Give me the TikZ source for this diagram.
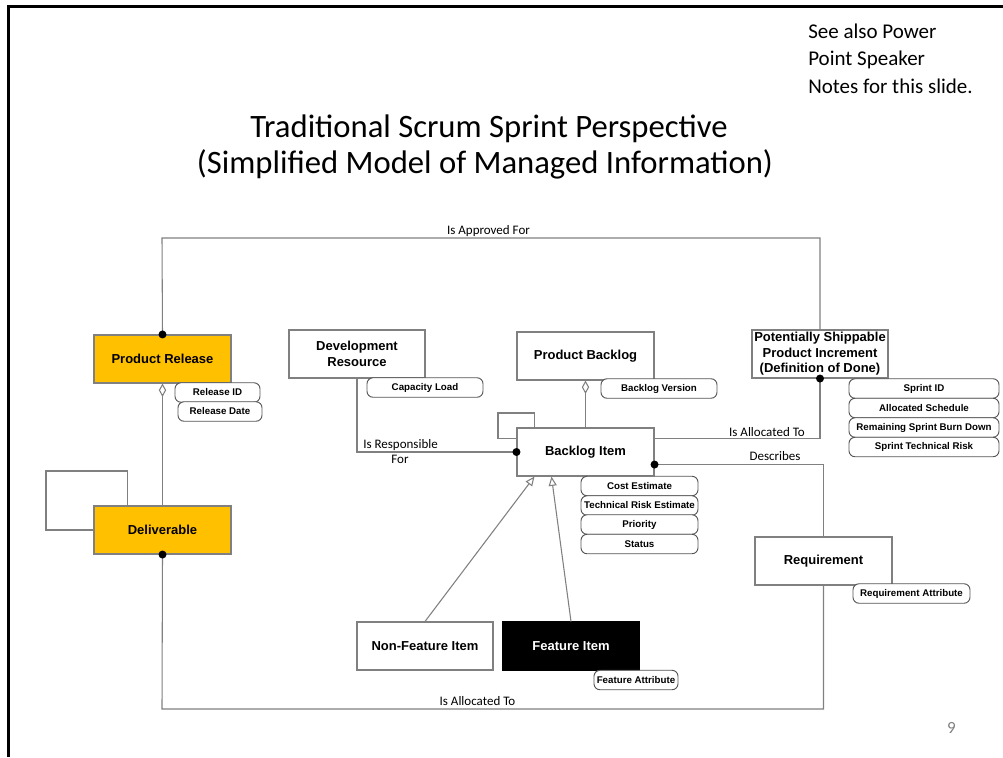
\documentclass[tikz,border=0pt]{standalone}
\usepackage{fontspec}
\setmainfont{Carlito}
\newfontfamily\arialfont{Liberation Sans}
\usetikzlibrary{arrows.meta,calc}
\definecolor{linegray}{HTML}{808080}
\definecolor{attrgray}{HTML}{555555}
\definecolor{relorange}{HTML}{FFC000}
\begin{document}
\begin{tikzpicture}[x=0.75pt,y=-0.75pt,
  ent/.style={draw=linegray, line width=0.8pt, minimum width=102.75pt, minimum height=36pt,
    inner sep=0pt, align=center, font=\arialfont\bfseries\fontsize{9.75}{11.6}\selectfont},
  attr/.style={draw=attrgray, line width=0.7pt, fill=white, rounded corners=4.5pt, minimum height=14.6pt,
    inner sep=0pt, font=\arialfont\bfseries\fontsize{7.3}{8}\selectfont},
  conn/.style={draw=linegray, line width=0.8pt},
  lbl/.style={inner sep=0pt, anchor=base, font=\fontsize{9.75}{11}\selectfont},
  dot/.style={fill=black},
  agg/.style={{Diamond[open,length=10pt,width=5.5pt]}-},
  gen/.style={-{Triangle[open,length=7pt,width=6pt]}}
]
\useasboundingbox (0,0) rectangle (1003,757);
\fill[white] (0,0) rectangle (1003,757);
\draw[line width=2.25pt] (8.5,757) -- (8.5,6.5) -- (1003,6.5);

% notes and heading
\node[inner sep=0pt, anchor=base west, font=\fontsize{15.75}{20}\selectfont] (note1) at (808,38.5) {See also Power};
\node[inner sep=0pt, anchor=base west, font=\fontsize{15.75}{20}\selectfont] (note2) at (808,65.5) {Point Speaker};
\node[inner sep=0pt, anchor=base west, font=\fontsize{15.75}{20}\selectfont] (note3) at (808,93) {Notes for this slide.};
\node[inner sep=0pt, anchor=base, font=\fontsize{24.5}{29}\selectfont] (title1) at (489,137) {Traditional Scrum Sprint Perspective};
\node[inner sep=0pt, anchor=base, font=\fontsize{24.5}{29}\selectfont] (title2) at (485,173) {(Simplified Model of Managed Information)};

% entities
\node[ent, fill=relorange] (pr) at (162.5,359) {Product Release};
\node[ent, fill=relorange] (del) at (162.5,530) {Deliverable};
\node[ent, minimum width=102pt] (dev) at (357,354) {Development\\Resource};
\node[ent] (pb) at (585.5,356) {Product Backlog};
\node[ent, minimum width=102pt] (pspi) at (820,354) {Potentially Shippable\\Product Increment\\(Definition of Done)};
\node[ent] (bi) at (585.5,452) {Backlog Item};
\node[ent] (req) at (823.5,561) {Requirement};
\node[ent, minimum width=102pt] (nfi) at (425,646) {Non-Feature Item};
\node[ent, minimum width=102pt, fill=black, draw=black, text=white] (fi) at (571,646) {Feature Item};

% corner points of the routed connectors
\coordinate (appr) at (162,238);
\coordinate (dloop) at (46,471);
\coordinate (bloop) at (498,413);
\coordinate (bottom) at (162,709);
\coordinate (descL) at ($(bi.south east)+(0,-12)$);
\coordinate (allocL) at ($(bi.north east)+(0,11)$);

% connectors
\draw[conn] (pr.north) -- (appr) -| (pspi.north);
\draw[conn, agg] (pr.south) -- (del.north);
\draw[conn] ($(del.north west)+(34,0)$) |- (dloop) |- (del.west);
\draw[conn] (del.south) -- (bottom) -| (req.south);
\draw[conn] (req.north) |- (descL);
\draw[conn] (pspi.south) |- (allocL);
\draw[conn] (dev.south) |- (bi.west);
\draw[conn, agg] (pb.south) -- (bi.north);
\draw[conn] ($(bi.north west)+(18,0)$) |- (bloop) |- ($(bi.north west)+(0,11)$);
\draw[conn, gen] (nfi.north) -- ($(bi.south west)+(18,0)$);
\draw[conn, gen] (fi.north) -- ($(bi.south west)+(35,0)$);

% connector ends
\fill[dot] (pr.north) circle[radius=4];
\fill[dot] (del.south) circle[radius=4];
\fill[dot] (pspi.south) circle[radius=4];
\fill[dot] (bi.west) circle[radius=4];
\fill[dot] (descL) circle[radius=4];

% connector labels
\node[lbl] (lapp) at (488.5,234) {Is Approved For};
\node[lbl, anchor=base west] (lresp) at (363,448) {Is Responsible};
\node[lbl] (lfor) at (400,463) {For};
\node[lbl] (lalloc1) at (767,436) {Is Allocated To};
\node[lbl] (ldesc) at (775,460) {Describes};
\node[lbl] (lalloc2) at (477.5,705) {Is Allocated To};

% attributes
\node[attr, minimum width=63.75pt] (relid) at (217.5,392.5) {Release ID};
\node[attr, minimum width=63pt] (reldate) at (220,411.5) {Release Date};
\node[attr, minimum width=87pt] (cap) at (425,387.5) {Capacity Load};
\node[attr, minimum width=87pt] (bver) at (659,388.5) {Backlog Version};
\node[attr, minimum width=112.5pt] (sid) at (924,388.5) {Sprint ID};
\node[attr, minimum width=112.5pt] (sched) at (924,408) {Allocated Schedule};
\node[attr, minimum width=112.5pt] (burn) at (924,427.5) {Remaining Sprint Burn Down};
\node[attr, minimum width=112.5pt] (srisk) at (924,447) {Sprint Technical Risk};
\node[attr, minimum width=87.75pt] (cost) at (639.5,486) {Cost Estimate};
\node[attr, minimum width=87.75pt] (trisk) at (639.5,505.5) {Technical Risk Estimate};
\node[attr, minimum width=87.75pt] (prio) at (639.5,524.5) {Priority};
\node[attr, minimum width=87.75pt] (stat) at (639.5,544) {Status};
\node[attr, minimum width=63pt] (fattr) at (636,680) {Feature Attribute};
\node[attr, minimum width=87.75pt] (rattr) at (911.5,593.5) {Requirement Attribute};

% page number
\node[inner sep=0pt, anchor=base, text=gray, font=\fontsize{12.75}{14}\selectfont] (pnum) at (951.5,733) {9};
\end{tikzpicture}
\end{document}
